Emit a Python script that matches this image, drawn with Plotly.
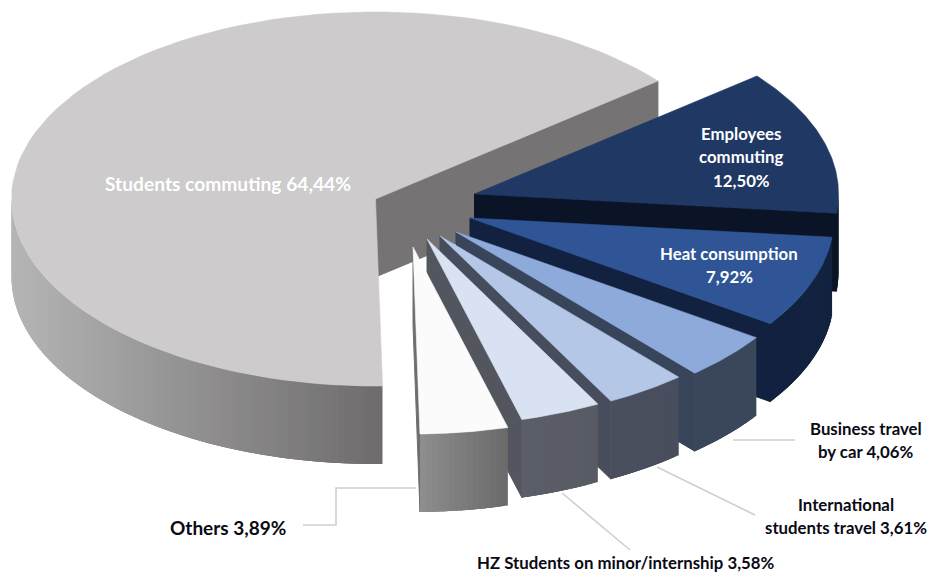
import numpy as np
import plotly.graph_objects as go

# Share of the footprint per source, in percent, clockwise from the bottom of the pie
SOURCES = ["Students commuting", "Employees commuting", "Heat consumption",
           "Business travel by car", "International students travel",
           "HZ Students on minor/internship", "Others"]
SHARES = [64.44, 12.50, 7.92, 4.06, 3.61, 3.58, 3.89]

# Slice colours: top face, cut face, outer wall (left to right)
TOP_COLORS = ["#cdcbcb", "#1f3864", "#2f5597", "#8eaadb", "#b4c7e7", "#d9e2f3", "#fbfbfb"]
CUT_COLORS = ["#757373", "#0b1426", "#11213f", "#37445a", "#474d5c", "#53565f", "#6e6e6e"]
WALL_LEFT = ["#b6b5b5", "#0b1426", "#11213f", "#3a4659", "#4a4f5e", "#5b5e67", "#8f8f8f"]
WALL_RIGHT = ["#6e6c6c", "#0b1426", "#12223f", "#3a4659", "#484e5d", "#585b64", "#6b6b6b"]

# Projection of the tilted disc and where each exploded slice has its tip
RADIUS_X, RADIUS_Y, DEPTH = 364, 187, 78
START_ANGLE = 178.9
TIP_X = [375.5, 474.5, 470, 456, 440, 427, 413]
TIP_Y = [199, 194, 218, 232, 236, 239, 247]


def rim(tip_x, tip_y, degrees):
    theta = np.radians(degrees)
    return tip_x + RADIUS_X * np.sin(theta), tip_y - RADIUS_Y * np.cos(theta)


def polygon(xs, ys, color, line_width=0.6):
    line = dict(color=color, width=line_width)
    return go.Scatter(x=list(xs) + [xs[0]], y=list(ys) + [ys[0]], mode="lines", fill="toself",
                      fillcolor=color, line=line, hoverinfo="skip", showlegend=False)


def blend(left, right, t):
    a = [int(left[i:i + 2], 16) for i in (1, 3, 5)]
    b = [int(right[i:i + 2], 16) for i in (1, 3, 5)]
    return "rgb({},{},{})".format(*[round(p + (q - p) * t) for p, q in zip(a, b)])


fig = go.Figure()
angle = START_ANGLE
for i, share in enumerate(SHARES):
    start, end = angle, angle + share * 3.6
    angle = end
    tx, ty = TIP_X[i], TIP_Y[i]

    # Flat cut face along the trailing edge of the slice
    ex, ey = rim(tx, ty, end)
    fig.add_trace(polygon([tx, ex, ex, tx], [ty, ey, ey + DEPTH, ty + DEPTH], CUT_COLORS[i], 1.0))

    # Outer wall, only the part that faces the viewer, split into shaded strips.
    # Each strip runs on under the next one so no seams show between them.
    wall_a = (start - 360) if start >= 360 else start
    wall_b = (end - 360) if end >= 450 else end
    low, high = max(wall_a, 90), min(wall_b, 270)
    if high > low:
        edges = np.linspace(low, high, max(2, int(high - low) + 2))
        full_left, _ = rim(tx, ty, high)
        full_right, _ = rim(tx, ty, low)
        for a in edges[:-1]:
            arc = np.linspace(a, high, 40) if (high - a) < 3 else np.linspace(a, a + 3, 6)
            xs, ys = rim(tx, ty, arc)
            t = (xs[0] - full_left) / max(full_right - full_left, 1)
            color = blend(WALL_LEFT[i], WALL_RIGHT[i], t)
            fig.add_trace(polygon(list(xs) + list(xs[::-1]),
                                  list(ys) + list((ys + DEPTH)[::-1]), color, 0))

    # Top face
    arc = np.linspace(start, end, 90)
    xs, ys = rim(tx, ty, arc)
    fig.add_trace(polygon([tx] + list(xs), [ty] + list(ys), TOP_COLORS[i]))


def pct(i):
    return f"{SHARES[i]:.2f}".replace(".", ",") + "%"


# Callout lines for the slices labelled outside the pie
for xs, ys in [([733, 795], [440, 440]),
               ([657, 755], [467, 515]),
               ([562, 630], [493, 550]),
               ([416, 336, 336, 303], [488, 488, 525, 525])]:
    fig.add_trace(go.Scatter(x=xs, y=ys, mode="lines", line=dict(color="#cfcfcf", width=1.6),
                             hoverinfo="skip", showlegend=False))

FONT = "Lato, Carlito, 'Open Sans', sans-serif"
DARK = "#0a0a14"
LINE_GAP = 23.5
labels = [
    (228, 183, [f"{SOURCES[0]} {pct(0)}"], 19.2, "#ffffff"),
    (741, 133, ["Employees", "commuting", pct(1)], 16.8, "#ffffff"),
    (729, 253, [SOURCES[2], pct(2)], 16.8, "#ffffff"),
    (866, 428, ["Business travel", f"by car {pct(3)}"], 16.8, DARK),
    (846, 504, ["International", f"students travel {pct(4)}"], 16.8, DARK),
    (626, 562, [f"{SOURCES[5]} {pct(5)}"], 16.8, DARK),
    (228, 527, [f"{SOURCES[6]} {pct(6)}"], 19, DARK),
]
for x, y, lines, size, color in labels:
    for n, text in enumerate(lines):
        fig.add_annotation(x=x, y=y + n * LINE_GAP, text=f"<b>{text}</b>", showarrow=False,
                           font=dict(family=FONT, size=size, color=color))

fig.update_layout(width=930, height=572, margin=dict(l=0, r=0, t=0, b=0),
                  paper_bgcolor="white", plot_bgcolor="white", showlegend=False,
                  xaxis=dict(range=[0, 930], visible=False, fixedrange=True),
                  yaxis=dict(range=[572, 0], visible=False, fixedrange=True))
fig.write_html("out.html", config={"displayModeBar": False})
